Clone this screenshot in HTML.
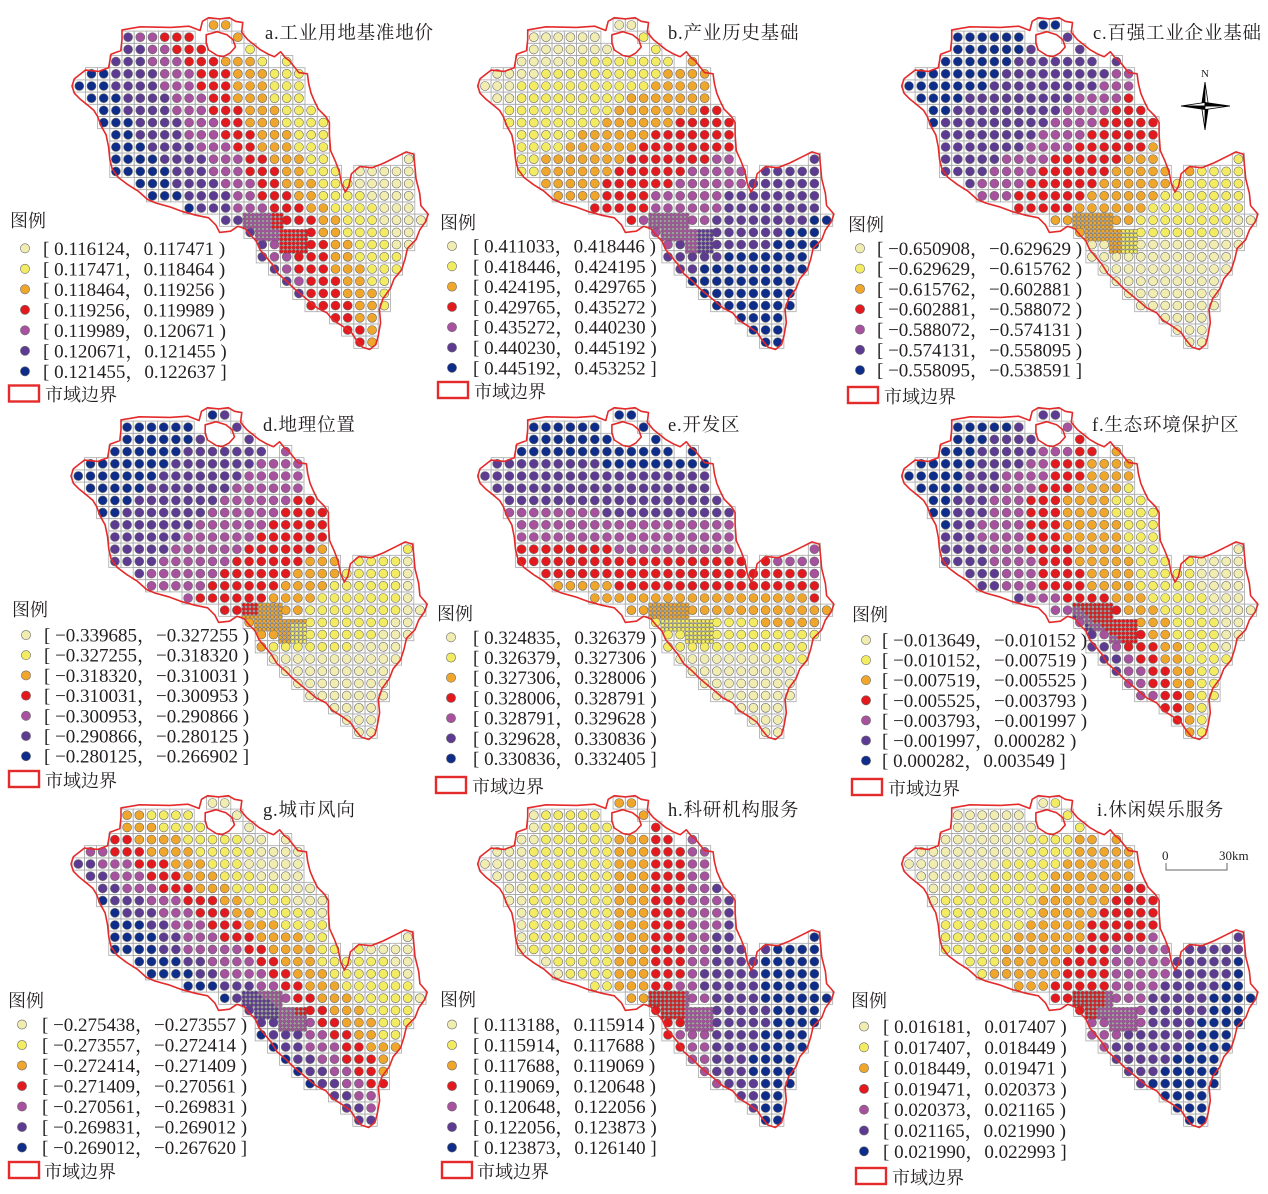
<!DOCTYPE html>
<html><head><meta charset="utf-8">
<style>
html,body{margin:0;padding:0;background:#fff;}
svg{display:block;}
text{font-family:"Liberation Serif","Noto Serif CJK SC",serif;fill:#231f20;}
.t{font-size:18.5px;letter-spacing:0.8px;}
.lg{font-size:19px;}
.lh{font-size:18px;}
.g rect{fill:none;stroke:#a9a9a9;stroke-width:0.8;}
.fg rect{fill:none;stroke:#8a8a8a;stroke-width:0.4;}
.d circle{stroke:#6b6b6b;stroke-width:0.6;}
.fd circle{stroke:#555;stroke-width:0.35;}
.bd{fill:none;stroke:#e42a2a;stroke-width:1.6;stroke-linejoin:round;}
.lr{fill:#fff;stroke:#e42a2a;stroke-width:2.4;}
</style></head><body>
<svg id="s" width="1268" height="1194" viewBox="0 0 1268 1194" xmlns="http://www.w3.org/2000/svg">
<rect x="0" y="0" width="1268" height="1194" fill="#fff"/>
<g id="maps"></g>
<g id="ldots"></g>

<!-- titles -->
<text class="t" x="265" y="39">a.工业用地基准地价</text>
<text class="t" x="668" y="39">b.产业历史基础</text>
<text class="t" x="1093" y="39">c.百强工业企业基础</text>
<text class="t" x="263" y="431">d.地理位置</text>
<text class="t" x="668" y="431">e.开发区</text>
<text class="t" x="1092" y="431">f.生态环境保护区</text>
<text class="t" x="263" y="816">g.城市风向</text>
<text class="t" x="668" y="816">h.科研机构服务</text>
<text class="t" x="1097" y="816">i.休闲娱乐服务</text>

<!-- legend headers -->
<text class="lh" x="10" y="227">图例</text>
<text class="lh" x="440" y="229">图例</text>
<text class="lh" x="848" y="231">图例</text>
<text class="lh" x="12" y="616">图例</text>
<text class="lh" x="437" y="620">图例</text>
<text class="lh" x="852" y="621">图例</text>
<text class="lh" x="8" y="1007">图例</text>
<text class="lh" x="440" y="1006">图例</text>
<text class="lh" x="851" y="1007">图例</text>

<!-- legend a -->
<text class="lg" x="43" y="254.8">[ 0.116124，0.117471 )</text>
<text class="lg" x="43" y="275.3">[ 0.117471，0.118464 )</text>
<text class="lg" x="43" y="295.8">[ 0.118464，0.119256 )</text>
<text class="lg" x="43" y="316.3">[ 0.119256，0.119989 )</text>
<text class="lg" x="43" y="336.8">[ 0.119989，0.120671 )</text>
<text class="lg" x="43" y="357.3">[ 0.120671，0.121455 )</text>
<text class="lg" x="43" y="377.8">[ 0.121455，0.122637 ]</text>
<!-- legend b -->
<text class="lg" x="473" y="252.5">[ 0.411033，0.418446 )</text>
<text class="lg" x="473" y="272.8">[ 0.418446，0.424195 )</text>
<text class="lg" x="473" y="293.1">[ 0.424195，0.429765 )</text>
<text class="lg" x="473" y="313.4">[ 0.429765，0.435272 )</text>
<text class="lg" x="473" y="333.7">[ 0.435272，0.440230 )</text>
<text class="lg" x="473" y="354">[ 0.440230，0.445192 )</text>
<text class="lg" x="473" y="374.3">[ 0.445192，0.453252 ]</text>
<!-- legend c -->
<text class="lg" x="877" y="254.8">[ −0.650908，−0.629629 )</text>
<text class="lg" x="877" y="275.1">[ −0.629629，−0.615762 )</text>
<text class="lg" x="877" y="295.4">[ −0.615762，−0.602881 )</text>
<text class="lg" x="877" y="315.7">[ −0.602881，−0.588072 )</text>
<text class="lg" x="877" y="336">[ −0.588072，−0.574131 )</text>
<text class="lg" x="877" y="356.3">[ −0.574131，−0.558095 )</text>
<text class="lg" x="877" y="376.6">[ −0.558095，−0.538591 ]</text>
<!-- legend d -->
<text class="lg" x="44" y="641.5">[ −0.339685，−0.327255 )</text>
<text class="lg" x="44" y="661.7">[ −0.327255，−0.318320 )</text>
<text class="lg" x="44" y="681.9">[ −0.318320，−0.310031 )</text>
<text class="lg" x="44" y="702.1">[ −0.310031，−0.300953 )</text>
<text class="lg" x="44" y="722.3">[ −0.300953，−0.290866 )</text>
<text class="lg" x="44" y="742.5">[ −0.290866，−0.280125 )</text>
<text class="lg" x="44" y="762.7">[ −0.280125，−0.266902 ]</text>
<!-- legend e -->
<text class="lg" x="473" y="643.8">[ 0.324835，0.326379 )</text>
<text class="lg" x="473" y="664">[ 0.326379，0.327306 )</text>
<text class="lg" x="473" y="684.2">[ 0.327306，0.328006 )</text>
<text class="lg" x="473" y="704.4">[ 0.328006，0.328791 )</text>
<text class="lg" x="473" y="724.6">[ 0.328791，0.329628 )</text>
<text class="lg" x="473" y="744.8">[ 0.329628，0.330836 )</text>
<text class="lg" x="473" y="765">[ 0.330836，0.332405 ]</text>
<!-- legend f -->
<text class="lg" x="882" y="646.5">[ −0.013649，−0.010152 )</text>
<text class="lg" x="882" y="666.6">[ −0.010152，−0.007519 )</text>
<text class="lg" x="882" y="686.7">[ −0.007519，−0.005525 )</text>
<text class="lg" x="882" y="706.8">[ −0.005525，−0.003793 )</text>
<text class="lg" x="882" y="726.9">[ −0.003793，−0.001997 )</text>
<text class="lg" x="882" y="747">[ −0.001997，0.000282 )</text>
<text class="lg" x="882" y="767.1">[ 0.000282，0.003549 ]</text>
<!-- legend g -->
<text class="lg" x="42" y="1031">[ −0.275438，−0.273557 )</text>
<text class="lg" x="42" y="1051.5">[ −0.273557，−0.272414 )</text>
<text class="lg" x="42" y="1072">[ −0.272414，−0.271409 )</text>
<text class="lg" x="42" y="1092.5">[ −0.271409，−0.270561 )</text>
<text class="lg" x="42" y="1113">[ −0.270561，−0.269831 )</text>
<text class="lg" x="42" y="1133.5">[ −0.269831，−0.269012 )</text>
<text class="lg" x="42" y="1154">[ −0.269012，−0.267620 ]</text>
<!-- legend h -->
<text class="lg" x="473" y="1031">[ 0.113188，0.115914 )</text>
<text class="lg" x="473" y="1051.5">[ 0.115914，0.117688 )</text>
<text class="lg" x="473" y="1072">[ 0.117688，0.119069 )</text>
<text class="lg" x="473" y="1092.5">[ 0.119069，0.120648 )</text>
<text class="lg" x="473" y="1113">[ 0.120648，0.122056 )</text>
<text class="lg" x="473" y="1133.5">[ 0.122056，0.123873 )</text>
<text class="lg" x="473" y="1154">[ 0.123873，0.126140 ]</text>
<!-- legend i -->
<text class="lg" x="883" y="1033">[ 0.016181，0.017407 )</text>
<text class="lg" x="883" y="1053.8">[ 0.017407，0.018449 )</text>
<text class="lg" x="883" y="1074.6">[ 0.018449，0.019471 )</text>
<text class="lg" x="883" y="1095.4">[ 0.019471，0.020373 )</text>
<text class="lg" x="883" y="1116.2">[ 0.020373，0.021165 )</text>
<text class="lg" x="883" y="1137">[ 0.021165，0.021990 )</text>
<text class="lg" x="883" y="1157.8">[ 0.021990，0.022993 ]</text>

<!-- boundary legend -->
<rect class="lr" x="9" y="385.5" width="30" height="16"/><text class="lh" x="45" y="401">市域边界</text>
<rect class="lr" x="438" y="382" width="30" height="16"/><text class="lh" x="474" y="398">市域边界</text>
<rect class="lr" x="848" y="387" width="30" height="16"/><text class="lh" x="884" y="403">市域边界</text>
<rect class="lr" x="9" y="771" width="30" height="16"/><text class="lh" x="45" y="787">市域边界</text>
<rect class="lr" x="436" y="777" width="30" height="16"/><text class="lh" x="472" y="793">市域边界</text>
<rect class="lr" x="852" y="779" width="30" height="16"/><text class="lh" x="888" y="795">市域边界</text>
<rect class="lr" x="9" y="1162" width="30" height="16"/><text class="lh" x="44" y="1178">市域边界</text>
<rect class="lr" x="442" y="1162" width="30" height="16"/><text class="lh" x="477" y="1178">市域边界</text>
<rect class="lr" x="856" y="1168" width="30" height="16"/><text class="lh" x="892" y="1184">市域边界</text>

<!-- compass -->
<g stroke="#000" stroke-width="0.8" stroke-linejoin="miter">
<polygon points="1205,82 1201.5,106 1205,106" fill="#000"/>
<polygon points="1205,82 1208.5,106 1205,106" fill="#fff"/>
<polygon points="1205,130 1208.5,106 1205,106" fill="#000"/>
<polygon points="1205,130 1201.5,106 1205,106" fill="#fff"/>
<polygon points="1181,106 1205,102.5 1205,106" fill="#fff"/>
<polygon points="1181,106 1205,109.5 1205,106" fill="#000"/>
<polygon points="1230,106 1205,109.5 1205,106" fill="#fff"/>
<polygon points="1230,106 1205,102.5 1205,106" fill="#000"/>
</g>
<text x="1201" y="77" style="font-size:11px">N</text>

<!-- scale bar -->
<g stroke="#666" stroke-width="1" fill="none">
<polyline points="1166,863 1166,870 1227,870 1227,863"/>
</g>
<text x="1162" y="860" style="font-size:13px">0</text>
<text x="1219" y="860" style="font-size:13px">30km</text>
</svg>
<script>
(function(){
var S=12.2;
var COL=["#f1edb0","#f3ec62","#f0a62a","#e3191e","#a7519f","#5e3b93","#0e2c8a"];
var mask=[[[11,12]],[[4,9],[13,13]],[[4,10],[14,14]],[[3,15],[17,17]],[[1,18]],[[0,18]],[[1,18]],[[2,19]],[[2,20]],[[3,20]],[[3,20]],[[3,20],[27,27]],[[3,21],[23,27]],[[5,27]],[[6,27]],[[9,27]],[[12,28]],[[14,27]],[[15,27]],[[15,26]],[[16,26]],[[17,25]],[[18,25]],[[19,25]],[[21,24]],[[22,24]],[[23,24]]];
var poly=[[-0.6,5.0],[-0.4,4.4],[0.5,3.7],[1.6,3.8],[2.4,3.5],[2.6,2.4],[3.4,2.1],[3.5,1.2],[3.5,0.4],[5.0,0.15],[7.5,0.2],[9.0,0.1],[9.9,0.45],[10.1,-0.3],[10.6,-0.6],[11.5,-0.5],[12.3,-0.6],[12.8,-0.3],[13.4,-0.2],[13.3,0.6],[13.8,1.2],[14.3,1.6],[14.8,2.0],[15.5,2.4],[16.0,2.6],[16.5,2.2],[16.9,2.7],[17.2,2.9],[17.6,3.4],[18.0,3.9],[18.7,4.0],[18.8,4.8],[19.0,5.6],[19.3,6.3],[19.6,6.9],[20.2,7.5],[20.5,8.0],[20.5,9.0],[20.6,10.3],[21.0,11.2],[21.3,12.0],[21.5,13.0],[21.8,13.7],[22.1,13.2],[22.3,12.2],[23.0,11.6],[24.0,11.7],[25.0,11.3],[26.0,10.8],[26.8,10.4],[27.4,10.6],[27.5,11.5],[27.6,12.6],[27.9,13.8],[28.0,14.8],[28.6,15.5],[28.4,16.1],[27.9,16.8],[27.6,17.6],[26.9,18.3],[26.7,19.2],[26.4,20.1],[25.8,20.8],[25.5,21.6],[24.9,22.4],[24.6,23.3],[24.7,24.4],[24.5,25.5],[24.3,26.2],[23.8,26.6],[23.2,26.4],[22.7,25.8],[22.3,25.2],[21.6,24.7],[20.8,24.2],[20.3,23.6],[19.5,23.2],[18.8,22.6],[18.2,22.1],[17.6,21.6],[17.0,21.0],[16.3,20.4],[15.8,19.6],[15.3,19.0],[14.8,18.4],[14.5,17.7],[14.0,17.2],[13.6,16.7],[13.0,16.5],[12.4,16.9],[11.5,17.0],[11.2,16.4],[10.6,15.8],[9.6,15.6],[8.5,15.3],[7.4,14.9],[6.3,14.6],[5.6,14.3],[4.8,13.6],[4.0,13.1],[3.2,12.5],[2.7,11.8],[2.5,11.0],[2.4,10.0],[2.2,9.0],[1.8,8.3],[1.5,7.5],[1.2,7.0],[0.6,6.5],[0.1,6.1],[-0.4,5.6]];
var lake=[[10.4,0.8],[11.3,0.55],[12.1,0.8],[12.6,1.2],[12.8,1.8],[12.35,2.3],[11.8,2.6],[11.3,2.5],[10.6,2.05],[10.4,1.5]];
function ip(p,r){if(r<=p[0][0])return p[0][1];for(var i=1;i<p.length;i++){if(r<=p[i][0]){var a=p[i-1],b=p[i];return a[1]+(b[1]-a[1])*(r-a[0])/(b[0]-a[0]);}}return p[p.length-1][1];}
function lin(T,k){return T.map(function(t){return [[0,t],[26,t-26*k]];});}
function inR(x,y){return (x>13.4&&x<16.7&&y>15.4&&y<16.6)||(x>14.4&&x<18.6&&y>=16.6&&y<17.6)||(x>16.4&&x<18.6&&y>=17.6&&y<18.6);}
var W=[6,5,4,3,2,1,0],E=[0,1,2,3,4,5,6];
var P=[
{x:79.3,y:25,o:W,B:[
 [[0,2],[1,3],[3,2.5],[5,2.5],[10,5.5],[14,8.5],[15,9.5],[16,11.5],[17,13.5],[26,14]],
 [[0,3.5],[1,4.5],[3,5.5],[5,6.5],[10,9.5],[14,12],[17,14.5],[19,15.5],[21,17],[26,22]],
 [[0,6],[1,6.5],[3,8.5],[5,9.5],[10,12.5],[11,13.5],[14,14.5],[15,15.5],[17,16.5],[19,17.5],[22,18.5],[26,20]],
 [[0,9],[1,9.5],[3,11.5],[5,12.5],[10,14.5],[11,15.5],[14,17.5],[15,18.5],[16,19.5],[19,20.5],[22,21.5],[24,22.5],[26,23.5]],
 [[0,13.5],[2,13.5],[3,14.5],[5,15.5],[10,17.5],[11,18.5],[14,19.5],[15,20.5],[16,21.5],[19,22.5],[22,24],[26,25]],
 [[0,22],[10,22],[11,21],[14,23.5],[16,24.5],[19,26.5],[22,27],[26,30]]],
 cl:function(x,y){return (x>16.45||(x>15.8&&y<16.6))?3:4;}},
{x:485,y:25,o:E,B:[
 [[0,12.5],[1,10],[2,10.5],[3,7],[4,4],[5,2.5],[7,1.5],[26,-10]],
 [[0,19],[3,16.5],[4,14.5],[7,10.5],[11,4.5],[12,4.5],[14,3],[26,-5]],
 [[0,24],[6,18.5],[7,17.5],[9,13.5],[13,9.5],[16,8],[26,0]],
 [[0,30],[10,20.5],[11,18.5],[12,16.5],[14,13.5],[16,12.5],[26,5]],
 [[0,40],[10,27],[12,22.5],[14,19.5],[16,18.5],[18,15.5],[19,14.5],[26,10]],
 [[0,50],[12,30],[16,26.5],[18,23],[19,19.5],[20,17.5],[21,16],[26,16]]],
 cl:function(x,y){return (x>17.3&&y>16.5)?5:4;}},
{x:909,y:25,o:W,B:lin([12,21,25,31,37.5],1.2).concat([[[0,60],[14,40],[15,27.5],[16,26.5],[17,25.5],[18,14],[26,-5]]]),
 cl:function(x,y){return (x>17.5&&y>16.5)?1:2;}},
{x:78.3,y:415,o:W,B:lin([11.5,18.3,24.5,30,34],1.0).concat([[[0,40],[11,40],[12,26.5],[16,26.5],[18,24.5],[19,22],[20,15],[21,10],[26,10]]]),
 cl:function(x,y){if(x<14.6&&y<16.3)return 3;return (x>17.4&&y>17.2)?1:2;}},
{x:485,y:415,f:function(r,c){var e=(r<=13?0.3:0.1)*Math.max(0,c-21);var t=r+0.12*Math.max(0,14-c)-e,T=[4.5,8.5,11.4,14.45,16.85,19.8],i=0;while(i<6&&t>=T[i])i++;return W[i];},
 cl:function(x,y){return y<16.6?2:1;}},
{x:909,y:415,o:W,B:[
 [[0,9.5],[1,8.5],[2,6.5],[3,5.5],[5,4.5],[7,3.5],[9,3.5],[10,2.5],[14,0],[26,-5]],
 [[0,13],[1,12],[3,10.5],[5,7.5],[7,6.5],[10,5.5],[14,7.5],[16,11.5],[18,15.5],[20,17.5],[22,17.5],[26,20]],
 [[0,14.5],[1,14],[3,13.5],[4,11.5],[5,11.5],[7,9.5],[10,9.5],[14,10.5],[16,13.5],[18,16.5],[20,18.5],[22,19.5],[24,20.5],[26,22]],
 [[0,16.5],[3,16.5],[4,14.5],[5,14.5],[6,13.5],[7,12.5],[10,12.5],[14,14.5],[16,17.5],[18,19.5],[20,20.5],[22,21.5],[24,22.5],[26,22.5]],
 [[0,19],[4,18.5],[5,18.5],[6,17.5],[7,16.5],[10,17.5],[14,18.5],[16,20.5],[18,21.5],[20,22.5],[22,23.5],[26,23.5]],
 [[0,30],[10,30],[11,24],[14,23.5],[16,24.5],[18,25.5],[20,26],[26,30]]],
 cl:function(x,y){var d=(y-15.4)-(x-13.4)/1.3;return d>0.9?5:(d>0.1?4:3);}},
{x:78.3,y:803,o:W,B:[
 [[0,-5],[7,-5],[8,2.5],[9,3.5],[10,5.5],[11,6.5],[12,6.5],[13,8.5],[14,9.5],[15,11.5],[16,12.5],[18,14.5],[19,15.5],[20,16.5],[21,17.5],[22,18.5],[23,19.5],[24,20.5],[26,21]],
 [[0,-5],[3,-5],[4,0.5],[5,1.5],[6,2.5],[7,3.5],[8,5.5],[10,7.5],[12,8.5],[14,11.5],[15,14.5],[16,15],[18,17.5],[19,18.5],[20,18.5],[21,19.5],[22,20.5],[23,21.5],[24,22.5],[26,25]],
 [[0,-5],[2,-5],[3,2.5],[4,2.5],[5,4.5],[6,5.5],[7,6.5],[8,8.5],[9,9.5],[10,10.5],[11,11.5],[12,13.5],[13,14.5],[14,15.5],[15,16.5],[16,17.5],[17,17.5],[18,19.5],[19,20.5],[20,21.5],[21,21.5],[22,22.5],[23,23.5],[24,24.5],[26,25]],
 [[0,3.5],[2,3.5],[3,4.5],[4,5.5],[5,7.5],[6,8.5],[7,9.5],[8,11.5],[9,12.5],[10,13.5],[11,14.5],[12,15.5],[13,16.5],[14,17.5],[15,18.5],[16,19.5],[17,20.5],[18,21.5],[19,22.5],[20,23.5],[21,24.5],[22,24.5],[23,26],[26,26]],
 [[0,5.5],[1,5.5],[2,6.5],[3,8.5],[4,9.5],[5,10.5],[6,11.5],[7,12.5],[8,13.5],[9,14.5],[10,16.5],[11,18.5],[12,19],[13,19.5],[14,20.5],[15,21.5],[16,22.5],[17,23.5],[18,24.5],[19,24.5],[20,27],[26,30]],
 [[0,10.5],[2,13.5],[3,13.5],[4,14.5],[5,13.5],[6,14.5],[7,16],[10,20.5],[11,26],[12,23.5],[14,26.5],[16,27.5],[18,30],[26,30]]],
 cl:function(x,y){if(x>17.8&&y<17.4)return 3;if(x>16.45)return 4;return ((x-13.4)-(y-15.4)*1.2>1.2)?4:5;}},
{x:485,y:803,o:E,B:[
 [[0,4.5],[1,4.5],[5,3.5],[12,3.5],[13,5.5],[14,6.5],[26,10]],
 [[0,10.5],[26,10.5]],
 [[0,13.5],[26,13.5]],
 [[0,16.5],[14,16.5],[15,15.5],[16,16.5],[18,16.5],[19,15.5],[20,16.5],[26,17]],
 [[0,18.5],[7,18.5],[8,19.5],[12,18.5],[14,17.5],[15,17.5],[16,18.5],[22,18.5],[23,19.5],[26,20]],
 [[0,40],[10,40],[11,26.5],[12,23.5],[13,22.5],[16,22.5],[17,23.5],[18,23.5],[19,22.5],[20,22.5],[21,21.5],[22,21.5],[23,22.5],[26,22.5]]],
 cl:function(x,y){return x<16.45?3:4;}},
{x:909,y:803,o:E,B:[
 [[0,11],[2,10.5],[4,9],[6,6],[8,2.5],[26,2]],
 [[0,14.5],[2,14.5],[3,13.5],[4,13.5],[5,12.5],[6,11.5],[7,11.5],[8,10.5],[9,10.5],[10,9.5],[11,8.5],[12,7.5],[13,7.5],[14,6.5],[15,8],[26,8]],
 [[0,20],[6,19],[7,17.5],[8,16.5],[9,15.5],[10,14.5],[11,14.5],[12,13.5],[13,12.5],[14,12.5],[15,11.5],[16,11.5],[26,11.5]],
 [[0,40],[9,40],[10,21],[11,19.5],[12,16.5],[17,16.5],[18,14.5],[26,14]],
 [[0,40],[10,40],[11,21.5],[14,21.5],[15,20.5],[16,19.5],[18,19.5],[19,17.5],[20,16.5],[26,16]],
 [[0,50],[12,50],[13,26.5],[14,26.5],[15,25.5],[16,24.5],[17,24.5],[18,23.5],[19,23.5],[20,22.5],[21,21.5],[22,20.5],[23,19.5],[26,19]]],
 cl:function(x,y){return (x>16.0||(x>15.3&&y>16.6))?4:3;}}
];
var out='';
P.forEach(function(p){
  var x0=p.x,y0=p.y,g='',d='',fg='',fd='';
  function cls(r,c){if(p.f)return p.f(r,c);var idx=0;for(var k=0;k<p.B.length;k++){if(c>ip(p.B[k],r))idx=k+1;}return p.o[idx];}
  for(var r=0;r<mask.length;r++){
    mask[r].forEach(function(rg){
      for(var c=rg[0];c<=rg[1];c++){
        if(inR(c,r))continue;
        var cx=x0+c*S,cy=y0+r*S;
        g+='<rect x="'+(cx-S/2).toFixed(1)+'" y="'+(cy-S/2).toFixed(1)+'" width="12.2" height="12.2"/>';
        d+='<circle cx="'+cx.toFixed(1)+'" cy="'+cy.toFixed(1)+'" r="4.5" fill="'+COL[cls(r,c)]+'"/>';
      }
    });
  }
  var s3=S/3;
  for(var i=0;i<16;i++)for(var j=0;j<10;j++){
    var x=13.4+(i+0.5)/3,y=15.4+(j+0.5)/3;
    if(!inR(x,y))continue;
    var cx=x0+x*S,cy=y0+y*S;
    fg+='<rect x="'+(cx-s3/2).toFixed(2)+'" y="'+(cy-s3/2).toFixed(2)+'" width="'+s3.toFixed(2)+'" height="'+s3.toFixed(2)+'"/>';
    fd+='<circle cx="'+cx.toFixed(2)+'" cy="'+cy.toFixed(2)+'" r="1.8" fill="'+COL[p.cl(x,y)]+'"/>';
  }
  function pts(a){return a.map(function(q){return (x0+q[0]*S).toFixed(1)+','+(y0+q[1]*S).toFixed(1);}).join(' ');}
  out+='<g class="g">'+g+'</g><g class="fg">'+fg+'</g><g class="d">'+d+'</g><g class="fd">'+fd+'</g>'+
       '<polygon class="bd" points="'+pts(poly)+'"/><polygon class="bd" points="'+pts(lake)+'"/>';
});
document.getElementById('maps').innerHTML=out;
var L=[[25,248.3,20.5],[452,246,20.3],[860,248.3,20.3],[26,635,20.2],[451,637.3,20.2],[866,640,20.1],[22,1024.5,20.5],[452,1024.5,20.5],[864,1026.5,20.8]];
var ld='';
L.forEach(function(l){for(var k=0;k<7;k++){ld+='<circle cx="'+l[0]+'" cy="'+(l[1]+k*l[2]).toFixed(1)+'" r="4.6" fill="'+COL[k]+'" stroke="#6b6b6b" stroke-width="0.6"/>';}});
document.getElementById('ldots').innerHTML=ld;
})();
</script>
</body></html>
